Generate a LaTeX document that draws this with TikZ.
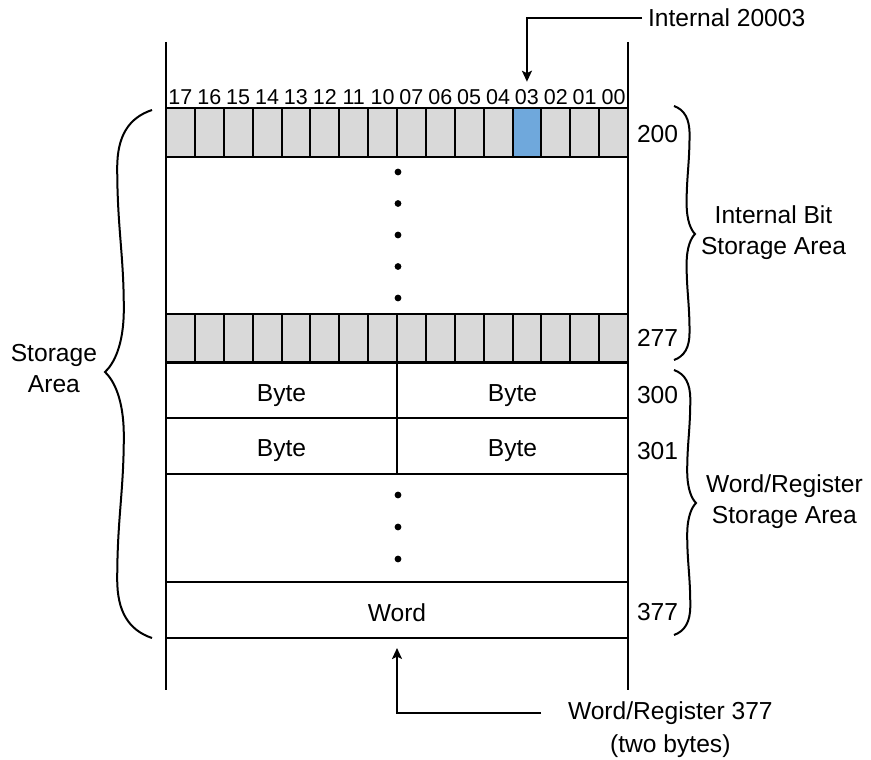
\documentclass[tikz,border=0pt]{standalone}
\usepackage{fontspec}
\setmainfont{Liberation Sans}
\usetikzlibrary{arrows.meta,positioning}
\definecolor{bitgray}{RGB}{217,217,217}
\definecolor{bitblue}{RGB}{111,168,220}
% curly brace: ends x, tip x, top y, tip y, bottom y
\newcommand{\sbrace}[5]{%
  \pgfmathsetmacro{\bra}{#2-#1}%
  \pgfmathsetmacro{\brh}{#4-#3}%
  \pgfmathsetmacro{\brg}{#5-#4}%
  \draw (#1,#3)
    .. controls ({#1+0.5*\bra},{#3+0.03*\brh}) and ({#1+0.74*\bra},{#3+0.1*\brh}) .. ({#1+0.74*\bra},{#3+0.22*\brh})
    .. controls ({#1+0.74*\bra},{#3+0.45*\brh}) and ({#1+0.6*\bra},{#4-0.45*\brh}) .. ({#1+0.6*\bra},{#4-0.24*\brh})
    .. controls ({#1+0.6*\bra},{#4-0.1*\brh}) and ({#1+0.82*\bra},{#4-0.03*\brh}) .. (#2,#4)
    .. controls ({#1+0.82*\bra},{#4+0.03*\brg}) and ({#1+0.6*\bra},{#4+0.1*\brg}) .. ({#1+0.6*\bra},{#4+0.24*\brg})
    .. controls ({#1+0.6*\bra},{#4+0.45*\brg}) and ({#1+0.74*\bra},{#5-0.45*\brg}) .. ({#1+0.74*\bra},{#5-0.22*\brg})
    .. controls ({#1+0.74*\bra},{#5-0.1*\brg}) and ({#1+0.5*\bra},{#5-0.03*\brg}) .. (#1,#5);}

\begin{document}
\begin{tikzpicture}[x=0.5pt,y=-0.5pt,line width=1pt,
    >={Stealth[length=5.5pt,width=5pt,inset=1.2pt]},
    lbl/.style={font=\fontsize{12.3}{15.5}\selectfont,align=center},
    bitcell/.style={draw,fill=bitgray,minimum width=14.44pt,minimum height=24.5pt,inner sep=0pt},
    bitnum/.style={font=\fontsize{10.75}{12}\selectfont},
    membox/.style={lbl,draw,minimum height=28pt,inner sep=0pt,text height=11pt,text depth=0pt},
    addr/.style={lbl,anchor=west,inner xsep=4pt}]
  \useasboundingbox (0,0) rectangle (871,759);
  % side rails
  \draw (166,42) -- (166,690);
  \draw (628,42) -- (628,690);
  % bit rows 200 and 277
  \foreach \lab [count=\i from 0] in {17,16,15,14,13,12,11,10,07,06,05,04,03,02,01,00} {
    \pgfmathsetmacro{\xc}{166+(\i+0.5)*28.875}
    \ifnum\i=12 \def\cf{bitblue}\else\def\cf{bitgray}\fi
    \node[bitcell,fill=\cf] (t\i) at (\xc,132.5) {};
    \node[bitcell] (u\i) at (\xc,338) {};
    \node[bitnum] (n\i) at (\xc,97) {\lab};
  }
  \foreach \yd in {172,203.5,235,266.5,298}
    \fill (398,\yd) circle (1.7pt);
  % byte and word rows
  \node[membox,minimum width=115.5pt] (b300l) at (281.5,390) {Byte};
  \node[membox,minimum width=115.5pt] (b300r) at (512.5,390) {Byte};
  \node[membox,minimum width=115.5pt] (b301l) at (281.5,445.5) {Byte};
  \node[membox,minimum width=115.5pt] (b301r) at (512.5,445.5) {Byte};
  \foreach \yd in {495,527,559}
    \fill (398,\yd) circle (1.7pt);
  \node[membox,minimum width=231pt] (word) at (397,610) {Word};
  % addresses
  \node[addr] (a200) at (628,134) {200};
  \node[addr] (a277) at (628,338) {277};
  \node[addr] (a300) at (628,395) {300};
  \node[addr] (a301) at (628,451) {301};
  \node[addr] (a377) at (628,612) {377};
  % braces
  \sbrace{152}{105}{110}{372}{638}
  \sbrace{674}{695}{106}{234}{360}
  \sbrace{674}{696}{370}{503}{635}
  \node[lbl,anchor=east,inner xsep=3.5pt] (stor) at (105,369) {Storage\\Area};
  \node[lbl,anchor=west,inner xsep=2.5pt] (ibit) at (695,233) {Internal Bit\\Storage Area};
  \node[lbl,anchor=west,inner xsep=4.5pt] (wstor) at (696,502) {Word/Register\\Storage Area};
  % pointers
  \node[lbl,anchor=west,inner xsep=2.5pt] (int) at (642,18) {Internal 20003};
  \draw[->] (int.west) -| (n12.north);
  \node[lbl,anchor=west,inner xsep=13pt,inner ysep=2pt,text height=9pt,text depth=2.5pt]
    (wreg) at (541,713) {Word/Register 377};
  \node[lbl,below=0pt of wreg,inner ysep=2pt,text height=9pt,text depth=2.5pt]
    (wregb) {(two bytes)};
  \draw[->,shorten >=4.5pt] (wreg.west) -| (word.south);
\end{tikzpicture}
\end{document}
